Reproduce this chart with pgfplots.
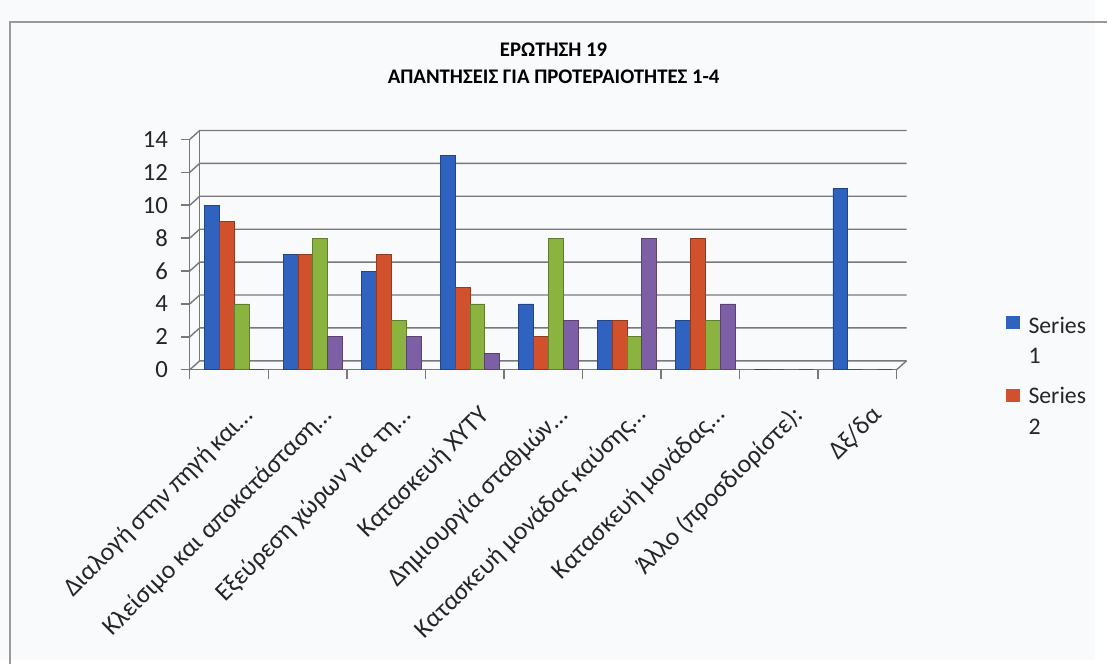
\documentclass[border=0pt]{standalone}
\usepackage{pgfplots}
\pgfplotsset{compat=1.18}
\usepackage{fontspec}
\setmainfont{Carlito}
\definecolor{bgc}{RGB}{248,250,252}
\definecolor{gridc}{RGB}{120,120,120}
\definecolor{sA}{RGB}{47,99,191}
\definecolor{sB}{RGB}{208,81,44}
\definecolor{sC}{RGB}{138,180,63}
\definecolor{sD}{RGB}{125,95,165}
\begin{document}
\begin{tikzpicture}
\fill[bgc] (0,0) rectangle (554pt,334pt);
\draw[black!40, line width=0.8pt] (5pt,-2pt) -- (5pt,323pt) -- (560pt,323pt);
\useasboundingbox (0,0) rectangle (554pt,334pt);
\node[font=\bfseries\fontsize{10.5}{12}\selectfont] at (280pt,309pt) {ΕΡΩΤΗΣΗ 19};
\node[font=\bfseries\fontsize{10.5}{12}\selectfont] at (280pt,295pt) {ΑΠΑΝΤΗΣΕΙΣ ΓΙΑ ΠΡΟΤΕΡΑΙΟΤΗΤΕΣ 1-4};
% legend
\fill[sA] (509pt,167.5pt) rectangle (516pt,174pt);
\node[anchor=base west, inner sep=0pt, font=\fontsize{12}{12}\selectfont, text=black!85] at (520pt,165.5pt) {Series};
\node[anchor=base west, inner sep=0pt, font=\fontsize{12}{12}\selectfont, text=black!85] at (520pt,150pt) {1};
\fill[sB] (509pt,130.5pt) rectangle (516pt,137pt);
\node[anchor=base west, inner sep=0pt, font=\fontsize{12}{12}\selectfont, text=black!85] at (520pt,130pt) {Series};
\node[anchor=base west, inner sep=0pt, font=\fontsize{12}{12}\selectfont, text=black!85] at (520pt,114pt) {2};
\begin{axis}[
  at={(96pt,147pt)}, anchor=south west,
  scale only axis, width=357.5pt, height=116.5pt,
  xmin=-0.5, xmax=8.5, ymin=0, ymax=14,
  clip=false,
  axis x line*=bottom, axis y line*=left,
  axis line style={gridc, line width=0.7pt, -},
  ytick={0,2,...,14},
  xtick={0,...,8},
  xticklabels={Διαλογή στην πηγή και…, Κλείσιμο και αποκατάσταση…, Εξεύρεση χώρων για τη…, Κατασκευή ΧΥΤΥ, Δημιουργία σταθμών…, Κατασκευή μονάδας καύσης…, Κατασκευή μονάδας…, Άλλο (προσδιορίστε):, Δξ/δα},
  minor xtick={-0.5,0.5,...,8.5},
  major x tick style={draw=none},
  minor tick length=4.5pt,
  major tick length=4.5pt,
  tick align=outside,
  tick style={gridc, line width=0.7pt},
  /pgf/number format/assume math mode=true,
  yticklabel style={font=\fontsize{12.5}{12.5}\selectfont, text=black!85, xshift=-3pt},
  xticklabel style={xshift=13pt, yshift=-19pt, rotate=45, anchor=base east, inner sep=0pt, font=\fontsize{13}{13}\selectfont, text=black!85},
  ybar, bar width=7.5pt,
]
\pgfplotsinvokeforeach{0,2,4,6,8,10,12,14}{
  \draw[gridc, line width=0.7pt] (axis cs:-0.5,#1) -- ([shift={(5pt,4.5pt)}]axis cs:-0.5,#1) -- ([shift={(5pt,4.5pt)}]axis cs:8.5,#1);
}
\draw[gridc, line width=0.7pt] ([shift={(5pt,4.5pt)}]axis cs:-0.5,0) -- ([shift={(5pt,4.5pt)}]axis cs:-0.5,14);
\draw[gridc, line width=0.7pt] (axis cs:8.5,0) -- ([shift={(5pt,4.5pt)}]axis cs:8.5,0);
\addplot[fill=sA, draw=sA!70!black, bar shift=-8.6pt] coordinates {(0,10) (1,7) (2,6) (3,13) (4,4) (5,3) (6,3) (7,0) (8,11)};
\addplot[fill=sB, draw=sB!70!black, bar shift=-1.1pt] coordinates {(0,9) (1,7) (2,7) (3,5) (4,2) (5,3) (6,8) (7,0) (8,0)};
\addplot[fill=sC, draw=sC!70!black, bar shift=6.4pt] coordinates {(0,4) (1,8) (2,3) (3,4) (4,8) (5,2) (6,3) (7,0) (8,0)};
\addplot[fill=sD, draw=sD!70!black, bar shift=13.9pt] coordinates {(0,0) (1,2) (2,2) (3,1) (4,3) (5,8) (6,4) (7,0) (8,0)};
\end{axis}
\end{tikzpicture}
\end{document}
